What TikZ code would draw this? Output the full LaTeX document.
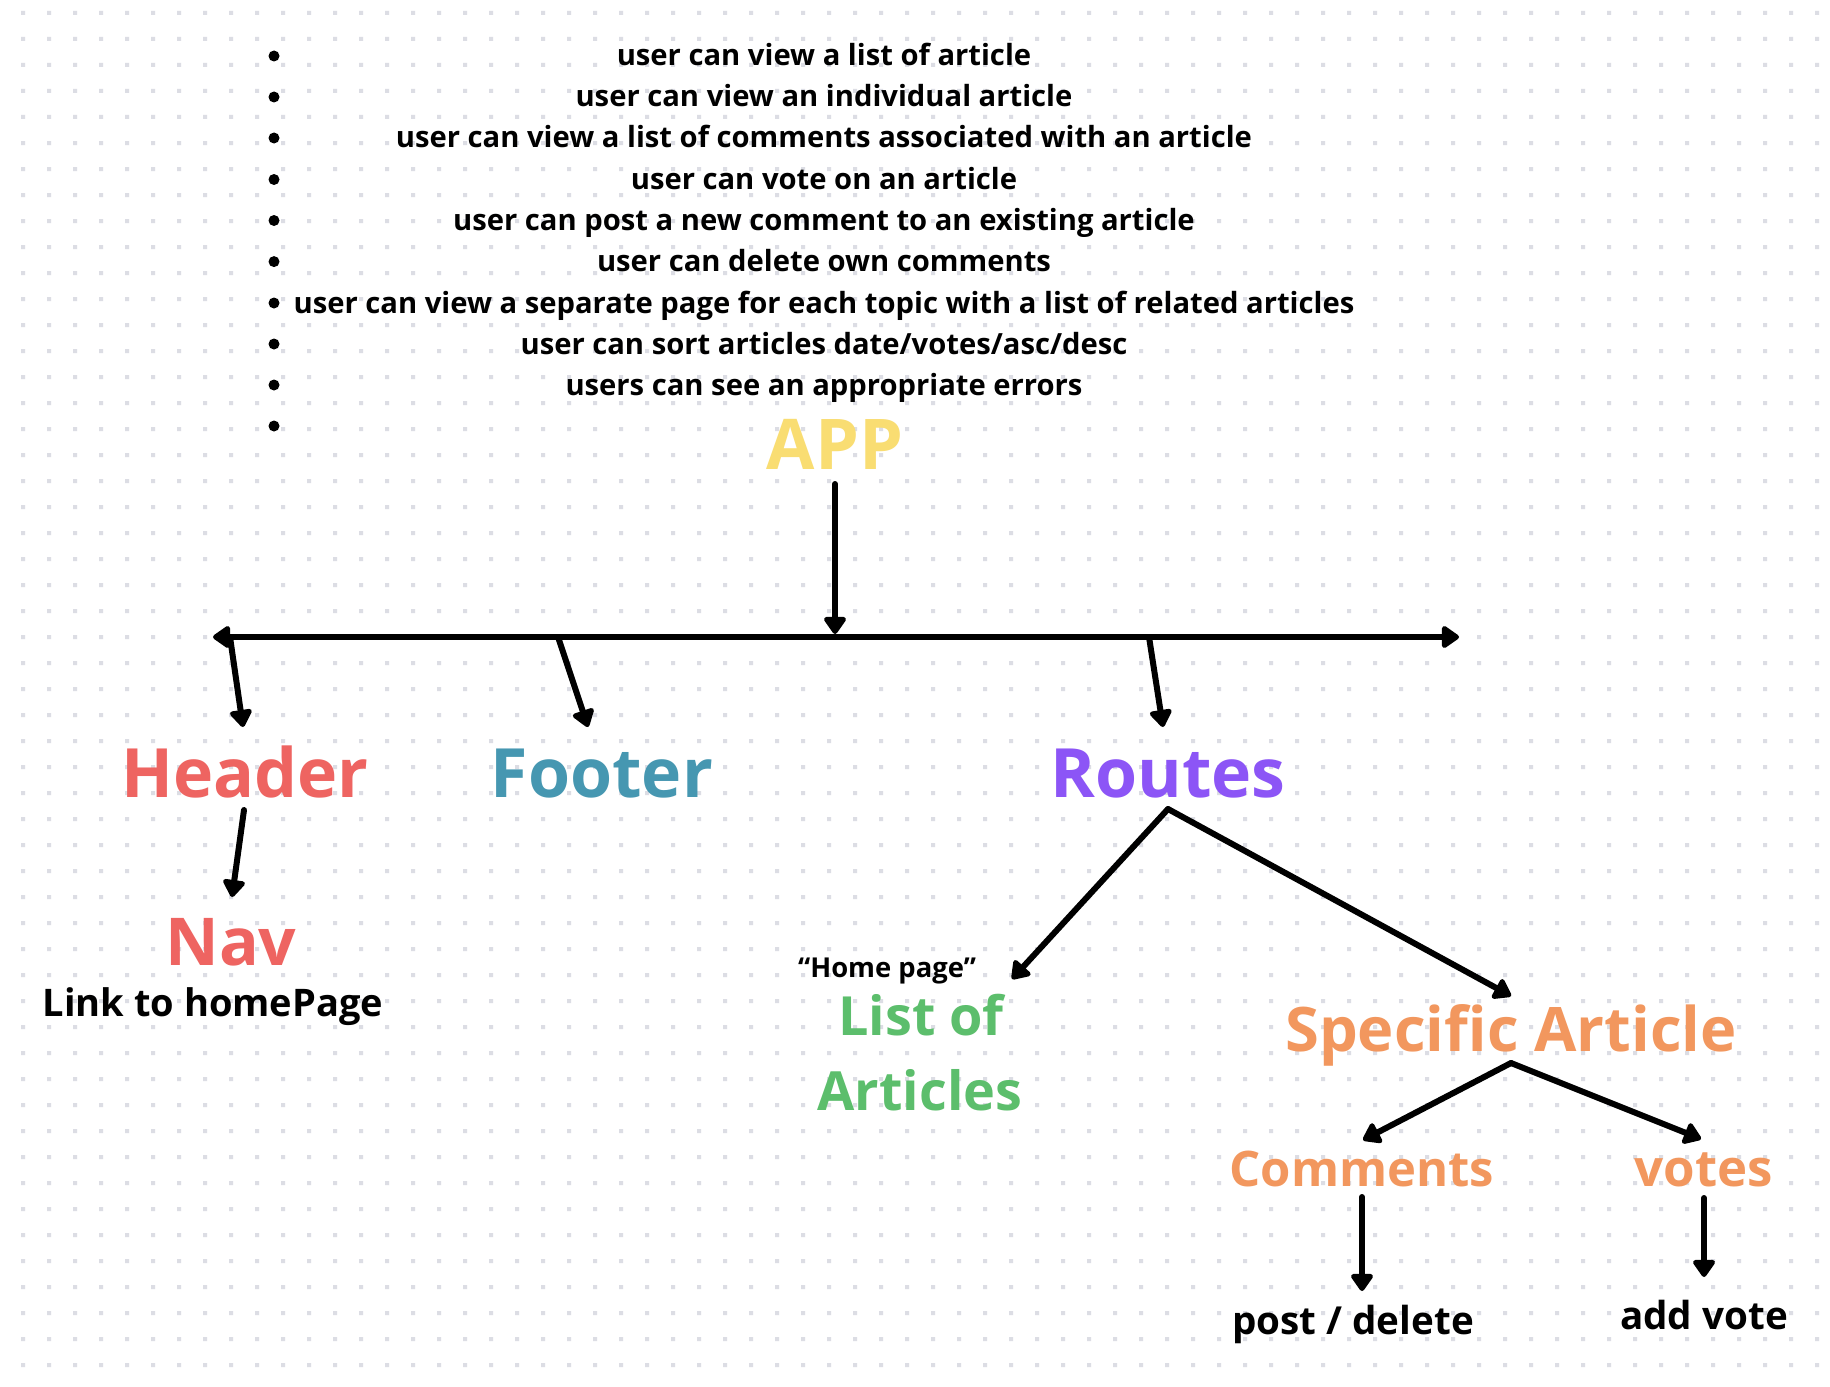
\documentclass[tikz,border=0pt]{standalone}
\usepackage{fontspec}
\setmainfont{Open Sans}
\usetikzlibrary{arrows.meta}
\definecolor{dotcol}{HTML}{DCDDE4}
\definecolor{appcol}{HTML}{F9DD72}
\definecolor{redcol}{HTML}{EE6461}
\definecolor{tealcol}{HTML}{4697B1}
\definecolor{purcol}{HTML}{8C55F6}
\definecolor{grncol}{HTML}{5CBE6C}
\definecolor{orgcol}{HTML}{F2975E}
\tikzset{
  conn/.style={line width=3pt, line cap=round, line join=round,
    -{Triangle[length=9.5pt,width=12.5pt,round]}},
  conn2/.style={line width=3pt, line cap=round, line join=round,
    {Triangle[length=9.5pt,width=12.5pt,round]}-{Triangle[length=9.5pt,width=12.5pt,round]}},
  item/.style={anchor=base, inner sep=0pt, font=\fontsize{14.6}{16}\selectfont\bfseries},
  bulletdot/.style={circle, fill=black, inner sep=0pt, minimum size=5.5pt},
  lbl/.style={anchor=base, inner sep=0pt, font=\bfseries},
}
\begin{document}
\begin{tikzpicture}[x=0.5pt,y=-0.5pt]
\useasboundingbox (0,0) rectangle (1830,1386);
\fill[white] (0,0) rectangle (1830,1386);
\fill[dotcol] \foreach \i in {0,...,69} {\foreach \j in {0,...,52} {(21+26*\i,11+26*\j) rectangle ++(4,4)}};
% bullets
\foreach \k [count=\n] in {56,97,138,179.5,220.5,261.6,303,344,385,426} {
  \node[bulletdot] (b\n) at (274,\k) {};
}
\node[item] (t1) at (824,66) {user can view a list of article};
\node[item] (t2) at (824,107) {user can view an individual article};
\node[item] (t3) at (824,148) {user can view a list of comments associated with an article};
\node[item] (t4) at (824,189.5) {user can vote on an article};
\node[item] (t5) at (824,230.5) {user can post a new comment to an existing article};
\node[item] (t6) at (824,271.6) {user can delete own comments};
\node[item] (t7) at (824,313) {user can view a separate page for each topic with a list of related articles};
\node[item] (t8) at (824,354) {user can sort articles date/votes/asc/desc};
\node[item] (t9) at (824,395) {users can see an appropriate errors};
% main labels
\node[lbl, text=appcol, font=\fontsize{35}{38}\selectfont\bfseries] (app) at (835,469) {APP};
\node[lbl, text=redcol, font=\fontsize{34}{38}\selectfont\bfseries] (header) at (245,797) {Header};
\node[lbl, text=tealcol, font=\fontsize{34}{38}\selectfont\bfseries] (footer) at (602,797) {Footer};
\node[lbl, text=purcol, font=\fontsize{34}{38}\selectfont\bfseries] (routes) at (1168,797) {Routes};
\node[lbl, text=redcol, font=\fontsize{33}{36}\selectfont\bfseries] (nav) at (231,965) {Nav};
\node[lbl, font=\fontsize{19}{22}\selectfont\bfseries] (link) at (213,1016) {Link to homePage};
\node[lbl, font=\fontsize{13.7}{15}\selectfont\bfseries] (home) at (887,977) {“Home page”};
\node[lbl, text=grncol, font=\fontsize{27}{30}\selectfont\bfseries] (list1) at (921,1035) {List of};
\node[lbl, text=grncol, font=\fontsize{27}{30}\selectfont\bfseries] (list2) at (920,1110) {Articles};
\node[lbl, text=orgcol, font=\fontsize{30.7}{32}\selectfont\bfseries] (spec) at (1511,1051) {Specific Article};
\node[lbl, text=orgcol, font=\fontsize{24.5}{27}\selectfont\bfseries] (comm) at (1362,1186) {Comments};
\node[lbl, text=orgcol, font=\fontsize{25.5}{27}\selectfont\bfseries] (votes) at (1704,1186) {votes};
\node[lbl, font=\fontsize{19.3}{22}\selectfont\bfseries] (post) at (1353,1334) {post / delete};
\node[lbl, font=\fontsize{19.3}{22}\selectfont\bfseries] (addv) at (1704,1329) {add vote};
% connector coordinates
\coordinate (appS) at (835,484);
\coordinate (barM) at (835,634);
\coordinate (barL) at (213,637);
\coordinate (barR) at (1459,637);
\coordinate (bH) at (230,637);
\coordinate (bF) at (558,637);
\coordinate (bR) at (1149,637);
\coordinate (hT) at (243,727);
\coordinate (fT) at (588,727);
\coordinate (rT) at (1163,727);
\coordinate (hS) at (244,810);
\coordinate (nT) at (232,897);
\coordinate (rS) at (1168,809);
\coordinate (lT) at (1012,979);
\coordinate (sT) at (1511,996);
\coordinate (sS) at (1511,1063);
\coordinate (cT) at (1363,1140);
\coordinate (vT) at (1701,1139);
\coordinate (cS) at (1362,1197);
\coordinate (pT) at (1362,1291);
\coordinate (vS) at (1704,1198);
\coordinate (aT) at (1704,1277);
% connectors
\draw[conn] (appS) -- (barM);
\draw[conn2] (barL) -- (barR);
\draw[conn] (bH) -- (hT);
\draw[conn] (bF) -- (fT);
\draw[conn] (bR) -- (rT);
\draw[conn] (hS) -- (nT);
\draw[conn] (rS) -- (lT);
\draw[conn] (rS) -- (sT);
\draw[conn] (sS) -- (cT);
\draw[conn] (sS) -- (vT);
\draw[conn] (cS) -- (pT);
\draw[conn] (vS) -- (aT);
\end{tikzpicture}
\end{document}
